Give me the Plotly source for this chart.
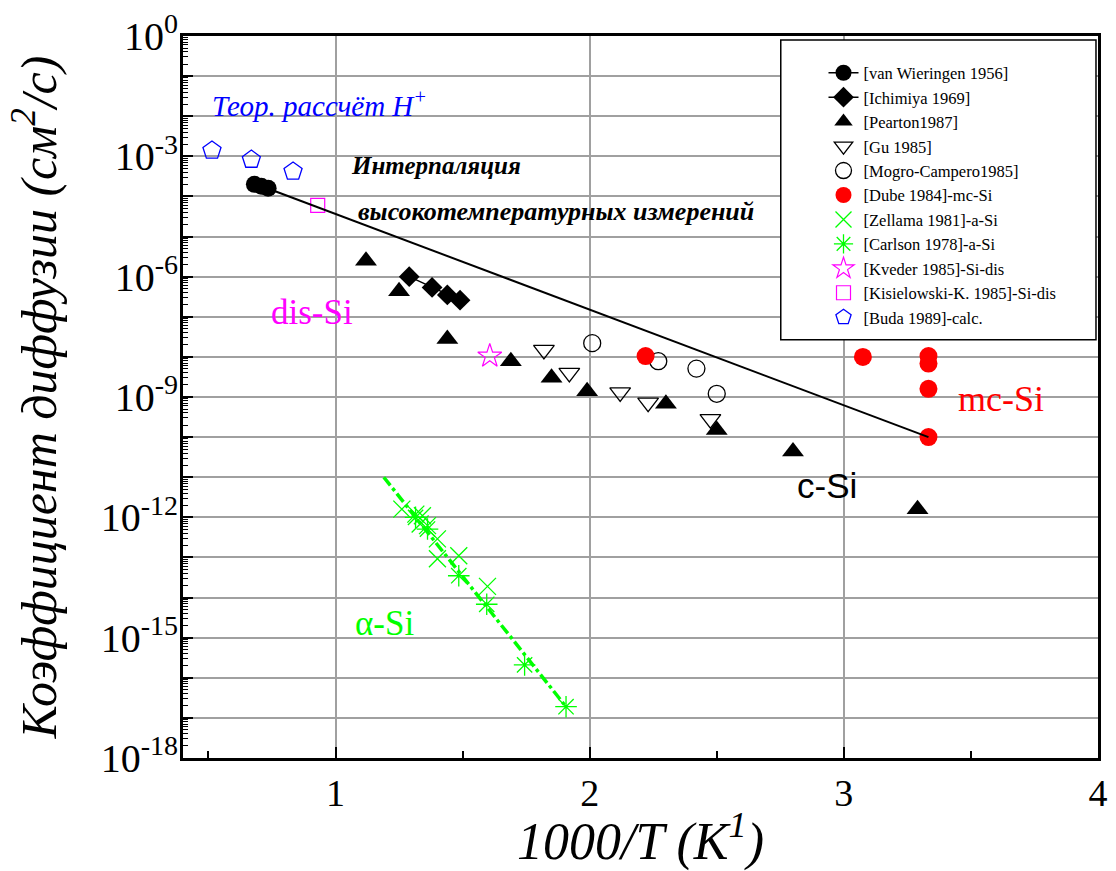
import plotly.graph_objects as go

# ---------------- data ----------------
buda_x = [0.514, 0.669, 0.833]
buda_D = [1.4e-3, 8.3e-4, 4.2e-4]

vw_x = [0.681, 0.708, 0.735]
vw_D = [2.0e-4, 1.8e-4, 1.6e-4]

kis_x = [0.930]
kis_D = [6.0e-5]

ichi_x = [1.29, 1.38, 1.44, 1.49]
ichi_D = [1.0e-6, 5.4e-7, 3.5e-7, 2.6e-7]

pearton_x = [1.12, 1.25, 1.44, 1.69, 1.85, 1.99, 2.30, 2.50, 2.80, 3.29]
pearton_D = [2.5e-6, 4.3e-7, 2.8e-8, 7.8e-9, 3.0e-9, 1.4e-9, 6.8e-10, 1.5e-10, 4.4e-11, 1.6e-12]

gu_x = [1.82, 1.92, 2.12, 2.23, 2.475]
gu_D = [1.5e-8, 4.0e-9, 1.3e-9, 7.2e-10, 2.8e-10]

mogro_x = [2.01, 2.27, 2.42, 2.50]
mogro_D = [2.2e-8, 7.8e-9, 5.1e-9, 1.2e-9]

dube_x = [2.22, 3.075, 3.333, 3.333, 3.333, 3.333]
dube_D = [1.05e-8, 1.0e-8, 1.05e-8, 6.8e-9, 1.6e-9, 1.0e-10]

zell_x = [1.261, 1.316, 1.342, 1.333, 1.362, 1.401, 1.401, 1.485, 1.598]
zell_D = [1.6e-12, 1.2e-12, 1.1e-12, 6.8e-13, 6.2e-13, 2.9e-13, 9.3e-14, 1.1e-13, 1.9e-14]

carl_x = [1.315, 1.362, 1.485, 1.595, 1.744, 1.907]
carl_D = [1.0e-12, 5.1e-13, 3.5e-14, 6.8e-15, 2.1e-16, 1.9e-17]

kved_x = [1.607]
kved_D = [1.05e-8]

interp_x = [0.70, 3.333]
interp_D = [1.9e-4, 1.0e-10]

asi_fit_x = [1.19, 1.907]
asi_fit_D = [1.0e-11, 1.9e-17]

ytick_exps = list(range(-18, 1))
ylabel_exps = list(range(-18, 1, 3))
xtick_vals = [1, 2, 3, 4]

SERIF = "Liberation Serif"
GREEN = "#00ff00"

fig = go.Figure()

# reference lines (interpolation line drawn on the overlaid label axis, same scale)
fig.add_trace(go.Scatter(x=interp_x, y=interp_D, mode="lines", yaxis="y2",
                         line=dict(color="black", width=2), showlegend=False))
fig.add_trace(go.Scatter(x=asi_fit_x, y=asi_fit_D, mode="lines",
                         line=dict(color=GREEN, width=3.5, dash="dashdot"), showlegend=False))

fig.add_trace(go.Scatter(x=vw_x, y=vw_D, mode="lines+markers", name="[van Wieringen 1956]",
                         line=dict(color="black", width=1.5),
                         marker=dict(symbol="circle", size=17, color="black")))
fig.add_trace(go.Scatter(x=ichi_x, y=ichi_D, mode="lines+markers", name="[Ichimiya 1969]",
                         line=dict(color="black", width=1.5),
                         marker=dict(symbol="diamond", size=16, color="black")))
fig.add_trace(go.Scatter(x=pearton_x, y=pearton_D, mode="markers", name="[Pearton1987]",
                         marker=dict(symbol="triangle-up", size=19, color="black")))
fig.add_trace(go.Scatter(x=gu_x, y=gu_D, mode="markers", name="[Gu 1985]",
                         marker=dict(symbol="triangle-down-open", size=18, color="black",
                                     line=dict(width=1.3, color="black"))))
fig.add_trace(go.Scatter(x=mogro_x, y=mogro_D, mode="markers", name="[Mogro-Campero1985]",
                         marker=dict(symbol="circle-open", size=17, color="black",
                                     line=dict(width=1.3, color="black"))))
fig.add_trace(go.Scatter(x=dube_x, y=dube_D, mode="markers", name="[Dube 1984]-mc-Si",
                         marker=dict(symbol="circle", size=18, color="#ff0000")))
fig.add_trace(go.Scatter(x=zell_x, y=zell_D, mode="markers", name="[Zellama 1981]-a-Si",
                         marker=dict(symbol="x-thin-open", size=17, color=GREEN,
                                     line=dict(width=1.3, color=GREEN))))
fig.add_trace(go.Scatter(x=carl_x, y=carl_D, mode="markers", name="[Carlson 1978]-a-Si",
                         marker=dict(symbol="asterisk-open", size=18, color=GREEN,
                                     line=dict(width=1.3, color=GREEN))))
fig.add_trace(go.Scatter(x=kved_x, y=kved_D, mode="markers", name="[Kveder 1985]-Si-dis",
                         marker=dict(symbol="star-open", size=18, color="#ff00ff",
                                     line=dict(width=1.2, color="#ff00ff"))))
fig.add_trace(go.Scatter(x=kis_x, y=kis_D, mode="markers", name="[Kisielowski-K. 1985]-Si-dis",
                         marker=dict(symbol="square-open", size=14, color="#ff00ff",
                                     line=dict(width=1.2, color="#ff00ff"))))
fig.add_trace(go.Scatter(x=buda_x, y=buda_D, mode="markers", name="[Buda 1989]-calc.",
                         marker=dict(symbol="pentagon-open", size=19, color="#0000ff",
                                     line=dict(width=1.3, color="#0000ff"))))

ytickvals = [10.0 ** e for e in ytick_exps]
ylabvals = [10.0 ** e for e in ylabel_exps]
ylabtext = ["10<sup>%d</sup>" % e for e in ylabel_exps]
yminor = [k * 10.0 ** e for e in ytick_exps[:-1] for k in range(2, 10)]

fig.update_layout(
    width=1116, height=871,
    margin=dict(l=183, r=8, t=33, b=113),
    paper_bgcolor="white", plot_bgcolor="white",
    font=dict(family=SERIF, color="black"),
    xaxis=dict(range=[0.4, 4.0], tickmode="array", tickvals=xtick_vals,
               ticktext=[str(v) for v in xtick_vals],
               ticks="inside", ticklen=11, tickwidth=2, tickcolor="black",
               showgrid=True, gridcolor="#a0a0a0", gridwidth=1.5,
               showline=True, linecolor="black", linewidth=2.5, mirror=True,
               zeroline=False, tickfont=dict(size=38, family=SERIF),
               minor=dict(ticks="inside", ticklen=7, tickwidth=2, dtick=0.5,
                          tick0=0.5, showgrid=False, tickcolor="black"),
               title=dict(text="<i>1000/T (K<sup>1</sup>)</i>",
                          font=dict(size=52, family=SERIF), standoff=4)),
    yaxis=dict(type="log", range=[-18, 0], tickmode="array", tickvals=ytickvals,
               showticklabels=False, ticks="inside", ticklen=10, tickwidth=2,
               tickcolor="black", showgrid=True, gridcolor="#a0a0a0", gridwidth=1.5,
               showline=True, linecolor="black", linewidth=2.5, mirror=True,
               zeroline=False,
               minor=dict(ticks="inside", ticklen=5, tickwidth=1.2, tickmode="array",
                          tickvals=yminor, showgrid=False, tickcolor="black")),
    yaxis2=dict(type="log", range=[-18, 0], overlaying="y", side="left", anchor="x",
                tickmode="array", tickvals=ylabvals, ticktext=ylabtext,
                ticks="", showgrid=False, showline=False, zeroline=False,
                ticklabelstandoff=4,
                tickfont=dict(size=40, family=SERIF),
                title=dict(text="<i>Коэффициент диффузии (см<sup>2</sup>/с)</i>",
                           font=dict(size=50, family=SERIF), standoff=28)),
    legend=dict(x=0.700, y=0.973, xanchor="left", yanchor="top",
                bgcolor="rgba(0,0,0,0)", borderwidth=0,
                font=dict(size=16.5, family=SERIF, color="black"),
                itemsizing="trace"),
    shapes=[dict(type="rect", xref="paper", yref="paper",
                 x0=0.6533, x1=0.9978, y0=0.5793, y1=0.9945,
                 fillcolor="white", line=dict(color="black", width=1.5),
                 layer="above")],
)

annos = [
    dict(x=0.506, y=-1.69, text="<i>Теор. рассчёт H<sup>+</sup></i>",
         font=dict(size=29, color="#0000ff", family=SERIF), xanchor="left"),
    dict(x=1.054, y=-3.23, text="<b><i>Интерпаляция</i></b>",
         font=dict(size=25, color="black", family=SERIF), xanchor="left"),
    dict(x=1.082, y=-4.37, text="<b><i>высокотемпературных измерений</i></b>",
         font=dict(size=26, color="black", family=SERIF), xanchor="left"),
    dict(x=0.739, y=-6.90, text="dis-Si",
         font=dict(size=35, color="#ff00ff", family=SERIF), xanchor="left"),
    dict(x=1.070, y=-14.65, text="α-Si",
         font=dict(size=35, color=GREEN, family=SERIF), xanchor="left"),
    dict(x=2.934, y=-11.2, text="c-Si",
         font=dict(size=35, color="black", family="Liberation Sans"), xanchor="center"),
    dict(x=3.44, y=-9.04, text="mc-Si",
         font=dict(size=36, color="#ff0000", family=SERIF), xanchor="left"),
]
for a in annos:
    a.update(xref="x", yref="y", showarrow=False, yanchor="middle")
    fig.add_annotation(**a)

fig.write_html("out.html")
